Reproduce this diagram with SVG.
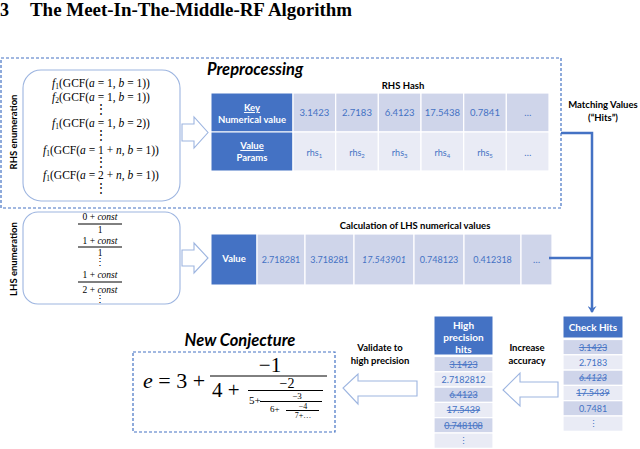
<svg xmlns="http://www.w3.org/2000/svg" width="640" height="449" viewBox="0 0 640 449">
<style>
.hd{font-family:Lato,"Liberation Sans",sans-serif;font-weight:bold;fill:#fff;text-anchor:middle}
.lb{font-family:Lato,"Liberation Sans",sans-serif;font-weight:bold;fill:#000;text-anchor:middle}
.cv{font-family:Lato,"Liberation Sans",sans-serif;fill:#4472C4;text-anchor:middle}
.fm{font-family:"Liberation Serif",serif;fill:#000;text-anchor:middle;font-size:11.5px}
.fl{font-family:"Liberation Serif",serif;fill:#000;text-anchor:middle;font-size:9.5px}
.eq{font-family:"Liberation Serif",serif;fill:#000}
.dk{fill:#CFD5EA;stroke:#fff;stroke-width:1.2}
.lt{fill:#E9EBF5;stroke:#fff;stroke-width:1.2}
.hb{fill:#4472C4;stroke:#fff;stroke-width:1}
.rb{fill:#fff;stroke:#9DB5E0;stroke-width:1.1}
.ha{fill:#fff;stroke:#9DB5E0;stroke-width:1.1}
.dash{fill:none;stroke:#4472C4;stroke-width:1.2;stroke-dasharray:3 2}
.st{text-decoration:line-through}
.ul{text-decoration:underline}
.con{fill:none;stroke:#4472C4;stroke-width:2.5}
.bar{stroke:#000;stroke-width:1}
</style>
<defs>
<marker id="ah" markerUnits="userSpaceOnUse" markerWidth="9" markerHeight="9" refX="4.5" refY="7" orient="0" viewBox="0 0 9 9">
<path d="M0,1 L4.5,8 L9,1 L4.5,3.5 z" fill="#4472C4"/>
</marker>
</defs>

<text x="0" y="16" font-family="Liberation Serif,serif" font-weight="bold" font-size="18">3</text>
<text x="30" y="16" font-family="Liberation Serif,serif" font-weight="bold" font-size="18" textLength="322" lengthAdjust="spacingAndGlyphs">The Meet-In-The-Middle-RF Algorithm</text>

<g id="preprocessing">
<rect class="dash" x="1" y="58" width="560" height="150"/>
<text x="207" y="75" font-family="Lato,'Liberation Sans',sans-serif" font-weight="bold" font-style="italic" font-size="16.5">Preprocessing</text>
</g>

<g id="rhs-enumeration">
<rect class="rb" x="23" y="70" width="157" height="131" rx="18"/>
<text class="lb" font-size="9.5" transform="translate(17,132) rotate(-90)">RHS enumeration</text>
<text class="fm" x="101" y="87"><tspan font-style="italic">f</tspan><tspan font-size="7.5" dy="2">1</tspan><tspan dy="-2">(GCF(</tspan><tspan font-style="italic">a</tspan> = 1, <tspan font-style="italic">b</tspan> = 1))</text>
<text class="fm" x="101" y="101"><tspan font-style="italic">f</tspan><tspan font-size="7.5" dy="2">2</tspan><tspan dy="-2">(GCF(</tspan><tspan font-style="italic">a</tspan> = 1, <tspan font-style="italic">b</tspan> = 1))</text>
<text class="fm" x="101" y="113">⋮</text>
<text class="fm" x="101" y="127"><tspan font-style="italic">f</tspan><tspan font-size="7.5" dy="2">1</tspan><tspan dy="-2">(GCF(</tspan><tspan font-style="italic">a</tspan> = 1, <tspan font-style="italic">b</tspan> = 2))</text>
<text class="fm" x="101" y="139">⋮</text>
<text class="fm" x="101" y="154"><tspan font-style="italic">f</tspan><tspan font-size="7.5" dy="2">1</tspan><tspan dy="-2">(GCF(</tspan><tspan font-style="italic">a</tspan> = 1 + <tspan font-style="italic">n</tspan>, <tspan font-style="italic">b</tspan> = 1))</text>
<text class="fm" x="101" y="166">⋮</text>
<text class="fm" x="101" y="179"><tspan font-style="italic">f</tspan><tspan font-size="7.5" dy="2">1</tspan><tspan dy="-2">(GCF(</tspan><tspan font-style="italic">a</tspan> = 2 + <tspan font-style="italic">n</tspan>, <tspan font-style="italic">b</tspan> = 1))</text>
<text class="fm" x="101" y="192">⋮</text>
</g>

<g id="rhs-arrow">
<polygon class="ha" points="182,124 194,124 194,117 208,132.5 194,148 194,141 182,141"/>
</g>

<g id="rhs-hash">
<text class="lb" x="403" y="89" font-size="9.5">RHS Hash</text>
<rect class="hb" x="211" y="93" width="82" height="39"/>
<rect class="hb" x="211" y="132" width="82" height="39"/>
<text class="hd ul" x="252" y="111" font-size="9.5">Key</text>
<text class="hd" x="252" y="123" font-size="9.5">Numerical value</text>
<text class="hd ul" x="252" y="149" font-size="9.5">Value</text>
<text class="hd" x="252" y="161" font-size="9.5">Params</text>
<rect class="dk" x="293" y="93" width="42.7" height="39"/>
<rect class="dk" x="335.7" y="93" width="42.7" height="39"/>
<rect class="dk" x="378.3" y="93" width="42.7" height="39"/>
<rect class="dk" x="421" y="93" width="42.7" height="39"/>
<rect class="dk" x="463.7" y="93" width="42.7" height="39"/>
<rect class="dk" x="506.3" y="93" width="42.7" height="39"/>
<rect class="lt" x="293" y="132" width="42.7" height="39"/>
<rect class="lt" x="335.7" y="132" width="42.7" height="39"/>
<rect class="lt" x="378.3" y="132" width="42.7" height="39"/>
<rect class="lt" x="421" y="132" width="42.7" height="39"/>
<rect class="lt" x="463.7" y="132" width="42.7" height="39"/>
<rect class="lt" x="506.3" y="132" width="42.7" height="39"/>
<text class="cv" x="314.3" y="116" font-size="9.5">3.1423</text>
<text class="cv" x="357" y="116" font-size="9.5">2.7183</text>
<text class="cv" x="399.7" y="116" font-size="9.5">6.4123</text>
<text class="cv" x="442.3" y="116" font-size="9.5">17.5438</text>
<text class="cv" x="485" y="116" font-size="9.5">0.7841</text>
<text class="cv" x="527.7" y="116" font-size="9.5">…</text>
<text class="cv" x="314.3" y="156" font-size="9">rhs<tspan font-size="6" dy="2">1</tspan></text>
<text class="cv" x="357" y="156" font-size="9">rhs<tspan font-size="6" dy="2">2</tspan></text>
<text class="cv" x="399.7" y="156" font-size="9">rhs<tspan font-size="6" dy="2">3</tspan></text>
<text class="cv" x="442.3" y="156" font-size="9">rhs<tspan font-size="6" dy="2">4</tspan></text>
<text class="cv" x="485" y="156" font-size="9">rhs<tspan font-size="6" dy="2">5</tspan></text>
<text class="cv" x="527.7" y="156" font-size="9.5">…</text>
</g>

<g id="matching-label">
<text class="lb" x="603" y="108" font-size="9.5">Matching Values</text>
<text class="lb" x="603" y="121" font-size="9.5">(“Hits”)</text>
</g>

<g id="lhs-enumeration">
<rect class="rb" x="23" y="212" width="157" height="92" rx="15"/>
<text class="lb" font-size="9.5" transform="translate(17,259) rotate(-90)">LHS enumeration</text>
<text class="fl" x="100" y="220">0 + <tspan font-style="italic">const</tspan></text>
<line class="bar" x1="78" y1="224" x2="122" y2="224"/>
<text class="fl" x="100" y="232.5">1</text>
<text class="fl" x="100" y="243.5">1 + <tspan font-style="italic">const</tspan></text>
<line class="bar" x1="78" y1="247" x2="122" y2="247"/>
<text class="fl" x="100" y="255.5">1</text>
<text class="fl" x="100" y="265" font-size="8">⋮</text>
<text class="fl" x="100" y="278">1 + <tspan font-style="italic">const</tspan></text>
<line class="bar" x1="78" y1="282" x2="122" y2="282"/>
<text class="fl" x="100" y="292.5">2 + <tspan font-style="italic">const</tspan></text>
<text class="fl" x="100" y="302" font-size="8">⋮</text>
</g>

<g id="lhs-arrow">
<polygon class="ha" points="182,250 194,250 194,243 208,258 194,273 194,266 182,266"/>
</g>

<g id="lhs-values">
<text class="lb" x="415" y="229" font-size="9.5">Calculation of LHS numerical values</text>
<rect class="hb" x="211" y="234" width="46" height="51"/>
<text class="hd" x="234" y="262" font-size="9.5">Value</text>
<rect class="dk" x="257" y="234" width="48" height="51"/>
<rect class="dk" x="305" y="234" width="49" height="51"/>
<rect class="dk" x="354" y="234" width="60" height="51"/>
<rect class="dk" x="414" y="234" width="50" height="51"/>
<rect class="dk" x="464" y="234" width="57" height="51"/>
<rect class="dk" x="521" y="234" width="31" height="51"/>
<text class="cv" x="281" y="263" font-size="9">2.718281</text>
<text class="cv" x="329.5" y="263" font-size="9">3.718281</text>
<text class="cv" x="384" y="263" font-size="9" font-style="italic">17.543901</text>
<text class="cv" x="439" y="263" font-size="9">0.748123</text>
<text class="cv" x="492.5" y="263" font-size="9">0.412318</text>
<text class="cv" x="536.5" y="263" font-size="9.5">…</text>
</g>

<g id="connectors">
<path class="con" d="M561,133 H592 V312" marker-end="url(#ah)"/>
<path class="con" d="M549,258 H592"/>
</g>

<g id="check-hits">
<rect class="hb" x="563" y="316" width="60" height="22"/>
<text class="hd" x="593" y="331" font-size="10">Check Hits</text>
<rect class="dk" x="563" y="339.5" width="60" height="15.3"/>
<rect class="lt" x="563" y="354.8" width="60" height="15.3"/>
<rect class="dk" x="563" y="370.1" width="60" height="15.3"/>
<rect class="lt" x="563" y="385.4" width="60" height="15.3"/>
<rect class="dk" x="563" y="400.7" width="60" height="15.3"/>
<rect class="lt" x="563" y="416" width="60" height="15.3"/>
<text class="cv st" x="593" y="350.5" font-size="9">3.1423</text>
<text class="cv" x="593" y="365.8" font-size="9">2.7183</text>
<text class="cv st" x="593" y="381.1" font-size="9" font-style="italic">6.4123</text>
<text class="cv st" x="593" y="396.4" font-size="9">17.5439</text>
<text class="cv" x="593" y="411.7" font-size="9">0.7481</text>
<text class="cv" x="593" y="427" font-size="9" fill="#333">⋮</text>
</g>

<g id="accuracy-arrow">
<polygon class="ha" points="558,382 520,382 520,373 503,390 520,406 520,397 558,397"/>
<text class="lb" x="527" y="351" font-size="9.5">Increase</text>
<text class="lb" x="527" y="364" font-size="9.5">accuracy</text>
</g>

<g id="high-precision-hits">
<rect class="hb" x="434" y="316" width="59" height="39"/>
<text class="hd" x="463.5" y="329" font-size="10">High</text>
<text class="hd" x="463.5" y="341" font-size="10">precision</text>
<text class="hd" x="463.5" y="353" font-size="10">hits</text>
<rect class="dk" x="434" y="356.5" width="59" height="15.3"/>
<rect class="lt" x="434" y="371.8" width="59" height="15.3"/>
<rect class="dk" x="434" y="387.1" width="59" height="15.3"/>
<rect class="lt" x="434" y="402.4" width="59" height="15.3"/>
<rect class="dk" x="434" y="417.7" width="59" height="15.3"/>
<rect class="lt" x="434" y="433" width="59" height="15.3"/>
<text class="cv st" x="463.5" y="367.5" font-size="9">3.1423</text>
<text class="cv" x="463.5" y="382.8" font-size="9">2.7182812</text>
<text class="cv st" x="463.5" y="398.1" font-size="9">6.4123</text>
<text class="cv st" x="463.5" y="413.4" font-size="9">17.5439</text>
<text class="cv st" x="463.5" y="428.7" font-size="9">0.748108</text>
<text class="cv" x="463.5" y="444" font-size="9" fill="#333">⋮</text>
</g>

<g id="validate-arrow">
<polygon class="ha" points="417,381 358,381 358,374 343,388 358,404 358,396 417,396"/>
<text class="lb" x="380" y="351" font-size="9.5">Validate to</text>
<text class="lb" x="380" y="364" font-size="9.5">high precision</text>
</g>

<g id="new-conjecture">
<text x="240" y="346" text-anchor="middle" font-family="Lato,'Liberation Sans',sans-serif" font-weight="bold" font-style="italic" font-size="16.5">New Conjecture</text>
<rect class="dash" x="133" y="352" width="202" height="80"/>
<text class="eq" x="143" y="388" font-size="22"><tspan font-style="italic">e</tspan> = 3 +</text>
<text class="eq" x="270" y="372" font-size="21" text-anchor="middle">−1</text>
<line class="bar" x1="210" y1="376" x2="327" y2="376"/>
<text class="eq" x="212" y="397" font-size="21">4 +</text>
<text class="eq" x="287" y="388" font-size="14" text-anchor="middle">−2</text>
<line class="bar" x1="248" y1="390.5" x2="323" y2="390.5"/>
<text class="eq" x="249" y="404" font-size="11">5+</text>
<text class="eq" x="297" y="399" font-size="9" text-anchor="middle">−3</text>
<line class="bar" x1="260" y1="401.5" x2="322" y2="401.5" stroke-width="0.9"/>
<text class="eq" x="270" y="412" font-size="9">6+</text>
<text class="eq" x="303" y="409" font-size="8" text-anchor="middle">−4</text>
<line class="bar" x1="286" y1="410.5" x2="319" y2="410.5" stroke-width="0.8"/>
<text class="eq" x="303" y="418" font-size="8" text-anchor="middle">7+…</text>
</g>
</svg>
